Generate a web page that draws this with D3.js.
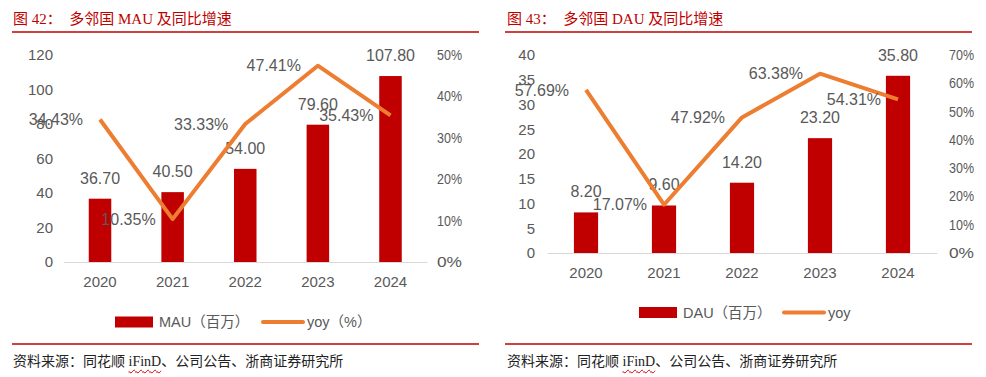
<!DOCTYPE html>
<html lang="zh">
<head>
<meta charset="UTF-8">
<title>多邻国 MAU / DAU</title>
<script src="https://d3js.org/d3.v7.min.js"></script>
<style>
  * { margin: 0; padding: 0; box-sizing: border-box; }
  body { width: 986px; height: 377px; background: #fff; position: relative; overflow: hidden; }
  .note {
    position: absolute;
    font-family: "Liberation Serif", "Noto Sans CJK SC", serif;
    white-space: nowrap;
  }
  .title { color: #c00000; font-size: 15px; top: 7px; }
  .src { color: #222; font-size: 14px; top: 350px; }
  .wavy { text-decoration: underline wavy #d00000; text-decoration-thickness: 1px; text-underline-offset: 3px; }
</style>
</head>
<body>
<div class="note title" style="left:13px">图 42：&nbsp; 多邻国 MAU 及同比增速</div>
<div class="note title" style="left:507px">图 43：&nbsp; 多邻国 DAU 及同比增速</div>
<div class="note src" style="left:13px">资料来源：同花顺 <span class="wavy">iFinD</span>、公司公告、浙商证券研究所</div>
<div class="note src" style="left:507px">资料来源：同花顺 <span class="wavy">iFinD</span>、公司公告、浙商证券研究所</div>
<svg id="chart" width="986" height="377"></svg>
<script>
  // data
  const years = ["2020", "2021", "2022", "2023", "2024"];
  const mau = [36.70, 40.50, 54.00, 79.60, 107.80];
  const mauYoy = [34.43, 10.35, 33.33, 47.41, 35.43];
  const dau = [8.20, 9.60, 14.20, 23.20, 35.80];
  const dauYoy = [57.69, 17.07, 47.92, 63.38, 54.31];
  const mauTicks = [0, 20, 40, 60, 80, 100, 120];
  const mauPctTicks = [0, 10, 20, 30, 40, 50];
  const dauTicks = [0, 5, 10, 15, 20, 25, 30, 35, 40];
  const dauPctTicks = [0, 10, 20, 30, 40, 50, 60, 70];

  const barColor = "#c00000";
  const lineColor = "#ed7d31";
  const textColor = "#595959";
  const numFont = "'Liberation Sans', Arial, 'Noto Sans CJK SC', sans-serif";

  const svg = d3.select("#chart");

  // red rules above and below each panel
  [[12, 479], [505, 972]].forEach(([a, b]) => {
    svg.append("line").attr("x1", a).attr("x2", b).attr("y1", 32).attr("y2", 32)
      .attr("stroke", "#c00000").attr("stroke-width", 1.3);
    svg.append("line").attr("x1", a).attr("x2", b).attr("y1", 344).attr("y2", 344)
      .attr("stroke", "#c00000").attr("stroke-width", 1.3);
  });

  function drawPanel(cfg) {
    const g = svg.append("g");
    const x = d3.scaleBand().domain(years).range(cfg.xRange)
      .paddingInner(0.69).paddingOuter(0.345);
    const y = d3.scaleLinear().domain([0, cfg.ticks[cfg.ticks.length - 1]]).range(cfg.yRange);
    const yp = d3.scaleLinear().domain([0, cfg.pctTicks[cfg.pctTicks.length - 1]]).range(cfg.yRange);
    const cx = d => x(d) + x.bandwidth() / 2;

    // left axis labels
    g.append("g")
      .attr("transform", `translate(${cfg.leftX},0)`)
      .call(d3.axisLeft(y).tickValues(cfg.ticks).tickSize(0).tickPadding(0))
      .call(a => a.select(".domain").remove())
      .selectAll("text")
      .attr("fill", textColor).style("font-size", "15px").style("font-family", numFont);

    // right axis labels
    g.append("g")
      .attr("transform", `translate(${cfg.rightX},0)`)
      .call(d3.axisRight(yp).tickValues(cfg.pctTicks).tickSize(0).tickPadding(0).tickFormat(d => d + "%"))
      .call(a => a.select(".domain").remove())
      .selectAll("text")
      .attr("fill", textColor).style("font-size", "14px").style("font-family", numFont)
      .attr("textLength", 25).attr("lengthAdjust", "spacingAndGlyphs");

    // baseline + category labels
    g.append("g")
      .attr("transform", `translate(0,${cfg.yRange[0]})`)
      .call(d3.axisBottom(x).tickSize(0).tickPadding(14))
      .call(a => a.select(".domain").attr("stroke", "#d9d9d9").attr("stroke-width", 1.2))
      .selectAll("text")
      .attr("fill", textColor).style("font-size", "15px").style("font-family", numFont);

    // bars
    g.selectAll(".bar").data(cfg.values).enter().append("rect")
      .attr("x", (d, i) => x(years[i]))
      .attr("y", d => y(d))
      .attr("width", x.bandwidth())
      .attr("height", d => y(0) - y(d))
      .attr("fill", barColor);

    // bar value labels
    g.selectAll(".blab").data(cfg.values).enter().append("text")
      .attr("x", (d, i) => cx(years[i]))
      .attr("y", d => y(d) - 15)
      .attr("text-anchor", "middle")
      .attr("fill", textColor).style("font-size", "16px").style("font-family", numFont)
      .text(d => d.toFixed(2));

    // yoy line
    const line = d3.line().x((d, i) => cx(years[i])).y(d => yp(d));
    g.append("path").datum(cfg.yoy)
      .attr("d", line).attr("fill", "none")
      .attr("stroke", lineColor).attr("stroke-width", 4).attr("stroke-linejoin", "round");

    // yoy labels (left of the points)
    g.selectAll(".plab").data(cfg.yoy).enter().append("text")
      .attr("x", (d, i) => cx(years[i]) - 17)
      .attr("y", d => yp(d))
      .attr("dy", "0.36em")
      .attr("text-anchor", "end")
      .attr("fill", textColor).style("font-size", "16px").style("font-family", numFont)
      .text(d => d.toFixed(2) + "%");

    // legend
    const lg = g.append("g").attr("transform", `translate(${cfg.legendX},${cfg.legendY})`);
    lg.append("rect").attr("x", 0).attr("y", -5.5).attr("width", 38).attr("height", 11).attr("fill", barColor);
    lg.append("text").attr("x", 44).attr("y", 0).attr("dy", "0.36em")
      .attr("fill", textColor).style("font-size", "14.5px").style("font-family", numFont)
      .text(cfg.barName);
    lg.append("line").attr("x1", cfg.lineGap).attr("x2", cfg.lineGap + 40).attr("y1", 0).attr("y2", 0)
      .attr("stroke", lineColor).attr("stroke-width", 4).attr("stroke-linecap", "round");
    lg.append("text").attr("x", cfg.lineGap + 44).attr("y", 0).attr("dy", "0.36em")
      .attr("fill", textColor).style("font-size", "14.5px").style("font-family", numFont)
      .text(cfg.lineName);
  }

  drawPanel({
    values: mau, yoy: mauYoy, ticks: mauTicks, pctTicks: mauPctTicks,
    xRange: [63.7, 426.8], yRange: [262, 55], leftX: 53, rightX: 437,
    legendX: 115, legendY: 322, lineGap: 148,
    barName: "MAU（百万）", lineName: "yoy（%）"
  });

  drawPanel({
    values: dau, yoy: dauYoy, ticks: dauTicks, pctTicks: dauPctTicks,
    xRange: [547, 937], yRange: [253, 55], leftX: 535, rightX: 949,
    legendX: 639, legendY: 312.5, lineGap: 145,
    barName: "DAU（百万）", lineName: "yoy"
  });
</script>
</body>
</html>
